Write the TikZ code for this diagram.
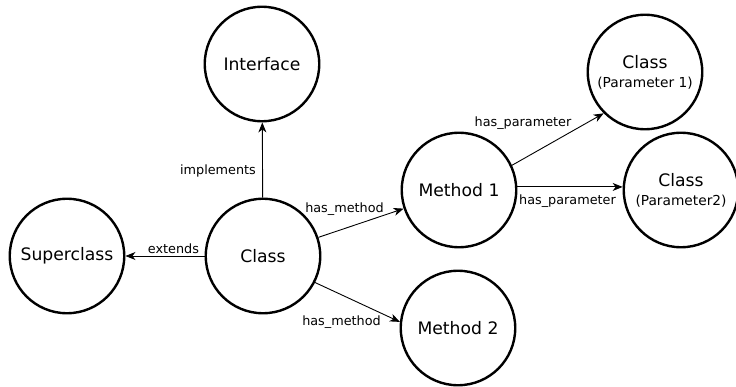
\documentclass[tikz,border=0pt]{standalone}
\usepackage{fontspec}
\setmainfont{DejaVu Sans}
\usetikzlibrary{arrows.meta}

\tikzset{
  entity/.style={circle, draw, line width=2.4pt, minimum size=114.5pt, inner sep=0pt,
    align=center, font=\fontsize{17.2}{17}\selectfont},
  rel/.style={line width=0.9pt, -{Stealth[length=10pt, width=8pt, inset=3pt]}},
  lab/.style={anchor=base, inner sep=0pt, font=\fontsize{12.8}{14}\selectfont}
}

\begin{document}
\begin{tikzpicture}[x=1pt, y=-1pt]
  \useasboundingbox (0,0) rectangle (736,387);

  % entities
  \node[entity] (s)  at (67,256)  {Superclass};
  \node[entity] (c)  at (263,256) {Class};
  \node[entity] (i)  at (262,64)  {Interface};
  \node[entity] (m1) at (459,190) {Method 1};
  \node[entity] (m2) at (458,328) {Method 2};
  \node[entity] (p1) at (645,72)  {Class\\[2pt]{\fontsize{13.75}{16}\selectfont (Parameter 1)}};
  \node[entity] (p2) at (681,190) {Class\\[2pt]{\fontsize{13.75}{16}\selectfont (Parameter2)}};

  % relations
  \draw[rel] (c) -- (i);
  \draw[rel] (c) -- (s);
  \draw[rel] (c) -- (m1);
  \draw[rel] (c.-27) -- (m2.174);
  \draw[rel] (m1.25) -- (p1.225);
  \draw[rel] (m1.3) -- (p2.177);

  % relation labels
  \node[lab] (limp) at (218,174.5) {implements};
  \node[lab] (lext) at (173.5,254) {extends};
  \node[lab] (lhm1) at (344.5,212.5) {has\_method};
  \node[lab] (lhm2) at (341.5,325.5) {has\_method};
  \node[lab] (lhp1) at (523,126.5) {has\_parameter};
  \node[lab] (lhp2) at (567.5,204.3) {has\_parameter};
\end{tikzpicture}
\end{document}
